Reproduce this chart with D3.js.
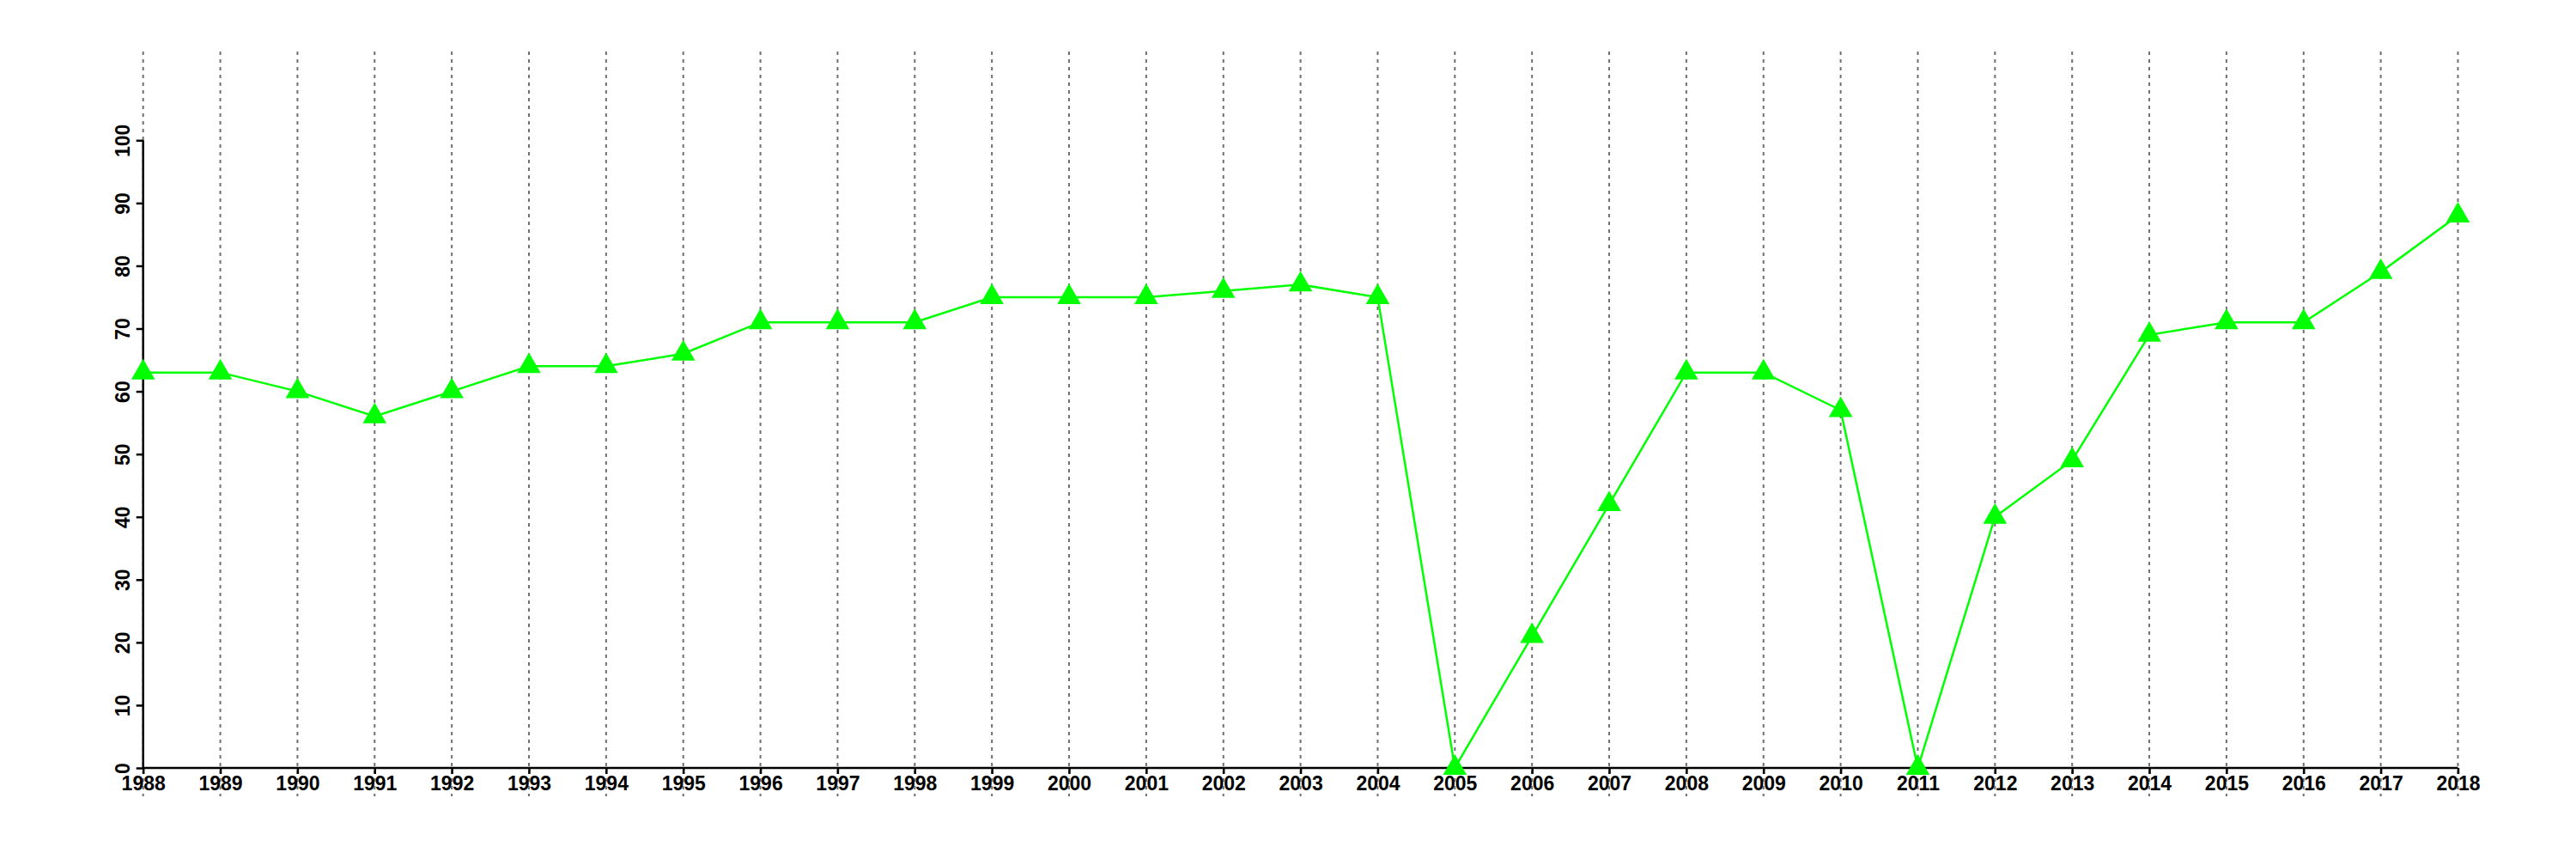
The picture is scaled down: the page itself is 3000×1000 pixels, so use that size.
<!DOCTYPE html>
<html><head><meta charset="utf-8">
<script src="https://cdn.jsdelivr.net/npm/d3@7"></script>
<style>body{margin:0;background:#fff}</style>
</head><body>
<script>
const years = [1988,1989,1990,1991,1992,1993,1994,1995,1996,1997,1998,1999,2000,2001,2002,2003,2004,2005,2006,2007,2008,2009,2010,2011,2012,2013,2014,2015,2016,2017,2018];
const values = [63,63,60,56,60,64,64,66,71,71,71,75,75,75,76,77,75,0,21,42,63,63,57,0,40,49,69,71,71,79,88];
const yTicks = [0,10,20,30,40,50,60,70,80,90,100];

const W = 3000, H = 1000;
const svg = d3.select("body").append("svg").attr("width", W).attr("height", H);

const x = d3.scaleLinear().domain([1988, 2018]).range([166.7, 2862.5]);
const y = d3.scaleLinear().domain([0, 100]).range([894, 163.3]);

// vertical dotted grid lines
svg.append("g").selectAll("line").data(years).join("line")
  .attr("x1", d => x(d)).attr("x2", d => x(d))
  .attr("y1", 60).attr("y2", 927)
  .attr("stroke", "#707070").attr("stroke-width", 2)
  .attr("stroke-dasharray", "4,5");

// y axis
const yAxis = svg.append("g").attr("transform", `translate(${x(1988)},0)`)
  .call(d3.axisLeft(y).tickValues(yTicks).tickSize(8).tickFormat(d3.format("d")));
yAxis.select(".domain").attr("stroke", "#000").attr("stroke-width", 2.5)
  .attr("d", `M0,${y(0)}V${y(100)}`);
yAxis.selectAll(".tick line").attr("stroke", "#000").attr("stroke-width", 2.5);
yAxis.selectAll(".tick text")
  .attr("font-family", "Liberation Sans, Arial, sans-serif")
  .attr("font-weight", "bold").attr("font-size", 23).attr("fill", "#000")
  .attr("transform", "rotate(-90)")
  .attr("x", 0).attr("y", -16).attr("dy", 0)
  .attr("text-anchor", "middle");

// x axis
const xAxis = svg.append("g").attr("transform", `translate(0,${y(0)})`)
  .call(d3.axisBottom(x).tickValues(years).tickSize(7).tickFormat(d3.format("d")));
xAxis.select(".domain").attr("stroke", "#000").attr("stroke-width", 2.5)
  .attr("d", `M${x(1988)},0H${x(2018)}`);
xAxis.selectAll(".tick line").attr("stroke", "#000").attr("stroke-width", 2.5);
xAxis.selectAll(".tick text")
  .attr("font-family", "Liberation Sans, Arial, sans-serif")
  .attr("font-weight", "bold").attr("font-size", 23).attr("fill", "#000")
  .attr("y", 10).attr("dy", "0.71em");

// line
const data = years.map((yr, i) => ({yr, v: values[i]}));
svg.append("path").datum(data)
  .attr("fill", "none").attr("stroke", "#00ff00").attr("stroke-width", 2.5)
  .attr("d", d3.line().x(d => x(d.yr)).y(d => y(d.v)));

// triangle markers
const tri = d3.symbol().type(d3.symbolTriangle).size(330);
svg.append("g").selectAll("path").data(data).join("path")
  .attr("d", tri)
  .attr("transform", d => `translate(${x(d.yr)},${y(d.v)})`)
  .attr("fill", "#00ff00");
</script>
</body></html>
